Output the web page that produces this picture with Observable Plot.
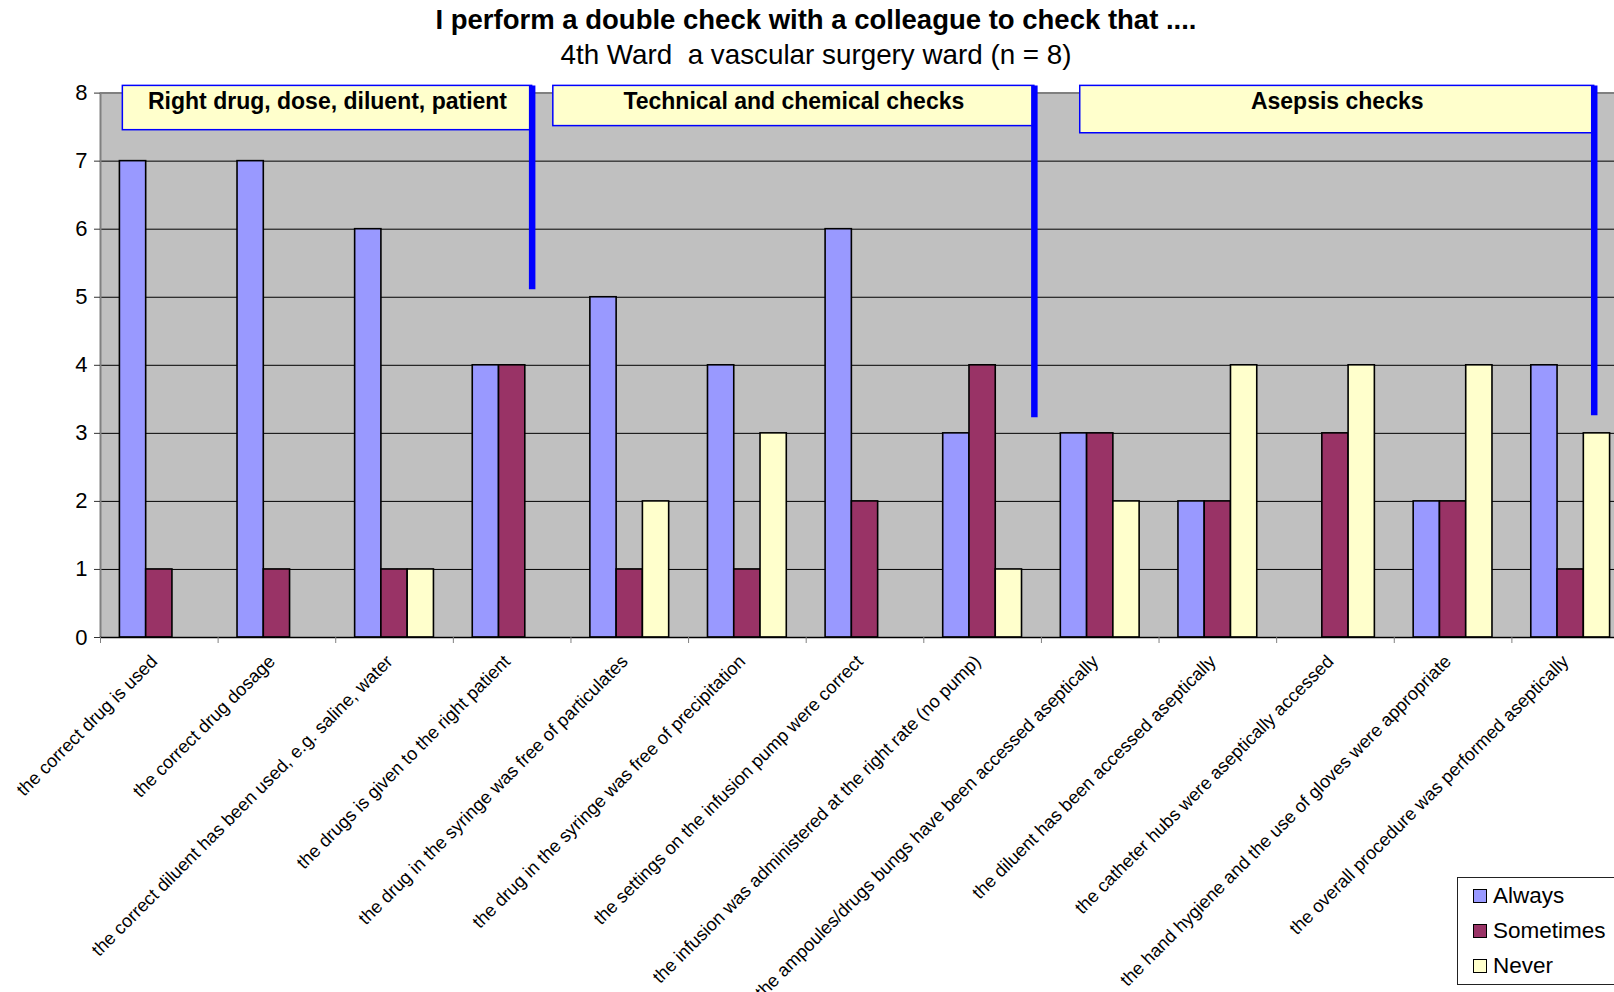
<!DOCTYPE html>
<html>
<head>
<meta charset="utf-8">
<script src="https://cdn.jsdelivr.net/npm/d3@7"></script>
<script src="https://cdn.jsdelivr.net/npm/@observablehq/plot@0.6"></script>
<style>
  html, body { margin: 0; padding: 0; background: #fff; overflow: hidden; }
  body { font-family: "Liberation Sans", Arial, sans-serif; width: 1614px; height: 992px; position: relative; }
  #title { position: absolute; left: 0; width: 1632px; top: 4px; text-align: center; font-weight: bold; font-size: 27.5px; line-height: 32px; }
  #subtitle { position: absolute; left: 0; width: 1632px; top: 39px; text-align: center; font-size: 27.8px; line-height: 32px; }
  #chart { position: absolute; left: 0; top: 0; width: 1640px; }
  #chart svg { max-width: none !important; }
  #legend { position: absolute; left: 1457px; top: 877px; width: 200px; height: 108px; border: 1px solid #222; background: #fff; box-sizing: border-box; }
  .item { position: absolute; left: 15px; font-size: 22.5px; line-height: 26px; height: 26px; }
  .sw { position: absolute; left: 0; top: 6px; width: 12px; height: 12px; border: 1.5px solid #000; }
  .lab { position: absolute; left: 20px; top: 0; white-space: nowrap; }
</style>
</head>
<body>
<div id="title">I perform a double check with a colleague to check that ....</div>
<div id="subtitle">4th Ward&nbsp; a vascular surgery ward (n = 8)</div>
<div id="chart"></div>
<div id="legend"></div>
<script>
// ---- data ----
const categories = [
  "the correct drug is used",
  "the correct drug dosage",
  "the correct diluent has been used, e.g. saline, water",
  "the drugs is given to the right patient",
  "the drug in the syringe was free of particulates",
  "the drug in the syringe was free of precipitation",
  "the settings on the infusion pump were correct",
  "the infusion was administered at the right rate (no pump)",
  "the ampoules/drugs bungs have been accessed aseptically",
  "the diluent has been accessed aseptically",
  "the catheter hubs were aseptically accessed",
  "the hand hygiene and the use of gloves were appropriate",
  "the overall procedure was performed aseptically"
];
const always    = [7, 7, 6, 4, 5, 4, 6, 3, 3, 2, 0, 2, 4];
const sometimes = [1, 1, 1, 4, 1, 1, 2, 4, 3, 2, 3, 2, 1];
const never     = [0, 0, 1, 0, 2, 3, 0, 1, 2, 4, 4, 4, 3];
const seriesNames = ["Always", "Sometimes", "Never"];
const yTicks = [0, 1, 2, 3, 4, 5, 6, 7, 8];
const groupLabels = ["Right drug, dose, diluent, patient", "Technical and chemical checks", "Asepsis checks"];

// ---- styling / layout ----
const seriesColors = ["#9999ff", "#993366", "#ffffcc"];
const groupWidth = 0.67;               // fraction of a category slot filled by its bars
const barW = groupWidth / seriesNames.length;
// annotation geometry (in data units: category slots / counts)
const boxX1 = [0.19, 3.85, 8.33];
const boxX2 = [3.67, 7.94, 12.70];
const boxTop = 8.106;
const boxBottom = [7.455, 7.515, 7.41];
const lineBottom = [5.11, 3.23, 3.26];

const seriesValues = [always, sometimes, never];
const table = categories.flatMap((c, i) =>
  seriesNames.map((s, k) => ({category: c, index: i, series: s, k, value: seriesValues[k][i]}))
).filter(d => d.value > 0);

const boxes = groupLabels.map((label, g) => ({
  label, x1: boxX1[g], x2: boxX2[g], y1: boxBottom[g], y2: boxTop, lineEnd: lineBottom[g]
}));

const W = 1640, mL = 100, mR = 11, mT = 92.6, mB = 355;

const chart = Plot.plot({
  width: W,
  height: 992,
  marginLeft: mL,
  marginRight: mR,
  marginTop: mT,
  marginBottom: mB,
  style: {fontFamily: "'Liberation Sans', Arial, sans-serif", background: "transparent", overflow: "visible", maxWidth: "none"},
  x: {type: "linear", domain: [0, categories.length], axis: null},
  y: {domain: [0, 8], axis: null},
  color: {domain: seriesNames, range: seriesColors},
  marks: [
    Plot.frame({fill: "#c0c0c0", stroke: null}),
    Plot.ruleY([1, 2, 3, 4, 5, 6, 7], {stroke: "#000", strokeWidth: 1}),
    Plot.ruleY([8], {stroke: "#808080", strokeWidth: 2}),
    Plot.rect(table, {
      x1: d => d.index + (1 - groupWidth) / 2 + d.k * barW,
      x2: d => d.index + (1 - groupWidth) / 2 + (d.k + 1) * barW,
      y1: 0,
      y2: "value",
      fill: "series",
      stroke: "#000",
      strokeWidth: 1.6
    }),
    Plot.ruleX([0], {stroke: "#808080", strokeWidth: 2}),
    Plot.ruleY([0], {stroke: "#000", strokeWidth: 1.5}),
    Plot.axisY(yTicks, {tickSize: 6, tickPadding: 7, fontSize: 22, label: null, stroke: "#333", fill: "#000", tickFormat: d => String(d)}),
    Plot.axisX(d3.range(categories.length + 1), {tickSize: 6, tickFormat: () => "", label: null, stroke: "#808080"}),
    Plot.axisX(d3.range(categories.length).map(i => i + 0.5), {
      tickSize: 0, tickPadding: 21, tickRotate: -45, fontSize: 18.2, label: null, dx: -5,
      tickFormat: v => categories[Math.floor(v)], fill: "#000"
    }),
    Plot.rect(boxes, {x1: "x1", x2: "x2", y1: "y1", y2: "y2", fill: "#ffffcc", stroke: "#0000ff", strokeWidth: 1.5}),
    Plot.ruleX(boxes, {x: "x2", y1: "y2", y2: "lineEnd", stroke: "#0000ff", strokeWidth: 6.5}),
    Plot.text(boxes, {x: d => (d.x1 + d.x2) / 2, y: "y2", dy: 16, text: "label", fontSize: 23, fontWeight: "bold", fill: "#000"})
  ]
});
document.getElementById("chart").appendChild(chart);

// legend
const legend = document.getElementById("legend");
seriesNames.forEach((s, k) => {
  const item = document.createElement("div");
  item.className = "item";
  item.style.top = (5 + k * 35) + "px";
  item.innerHTML = `<span class="sw" style="background:${seriesColors[k]}"></span><span class="lab">${s}</span>`;
  legend.appendChild(item);
});
</script>
</body>
</html>
